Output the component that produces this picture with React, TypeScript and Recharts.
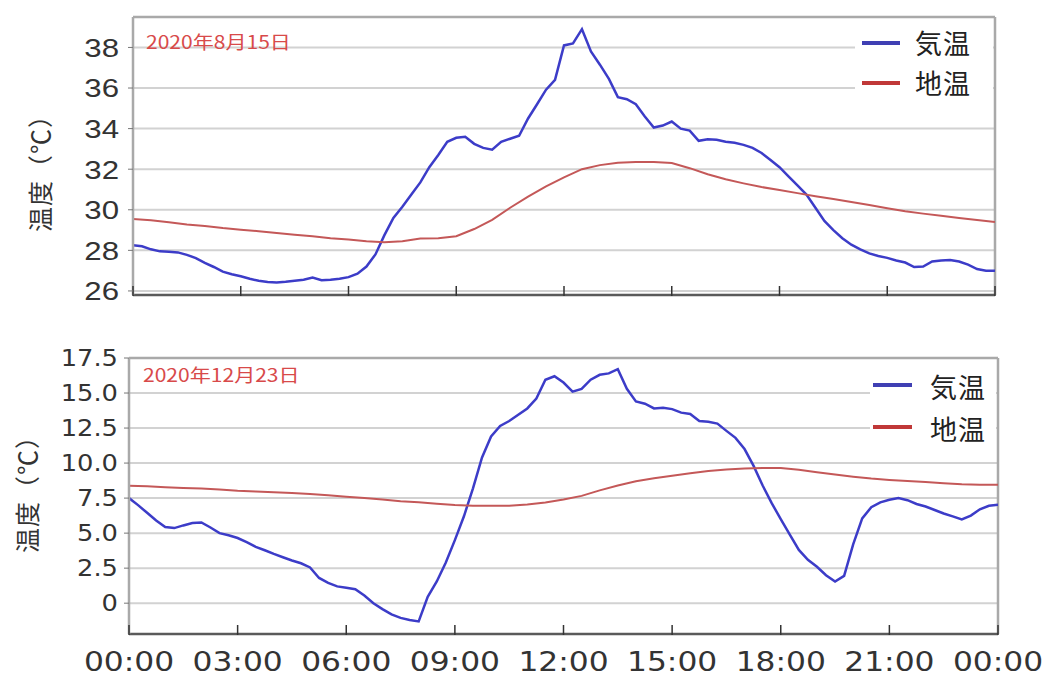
import React from 'react';
import { LineChart, Line, XAxis, YAxis, CartesianGrid, Legend, ReferenceLine } from 'recharts';

// time axis (hours)
const hoursQuarter = [
  0, 0.25, 0.5, 0.75, 1, 1.25, 1.5, 1.75, 2, 2.25, 2.5, 2.75, 3, 3.25, 3.5, 3.75,
  4, 4.25, 4.5, 4.75, 5, 5.25, 5.5, 5.75, 6, 6.25, 6.5, 6.75, 7, 7.25, 7.5, 7.75,
  8, 8.25, 8.5, 8.75, 9, 9.25, 9.5, 9.75, 10, 10.25, 10.5, 10.75, 11, 11.25, 11.5, 11.75,
  12, 12.25, 12.5, 12.75, 13, 13.25, 13.5, 13.75, 14, 14.25, 14.5, 14.75, 15, 15.25, 15.5, 15.75,
  16, 16.25, 16.5, 16.75, 17, 17.25, 17.5, 17.75, 18, 18.25, 18.5, 18.75, 19, 19.25, 19.5, 19.75,
  20, 20.25, 20.5, 20.75, 21, 21.25, 21.5, 21.75, 22, 22.25, 22.5, 22.75, 23, 23.25, 23.5, 23.75, 24,
];
const hoursHalf = [
  0, 0.5, 1, 1.5, 2, 2.5, 3, 3.5, 4, 4.5, 5, 5.5, 6, 6.5, 7, 7.5, 8, 8.5, 9, 9.5, 10, 10.5, 11, 11.5,
  12, 12.5, 13, 13.5, 14, 14.5, 15, 15.5, 16, 16.5, 17, 17.5, 18, 18.5, 19, 19.5, 20, 20.5, 21, 21.5,
  22, 22.5, 23, 23.5, 24,
];

// 2020-08-15
const augAir = [
  28.25, 28.2, 28.05, 27.95, 27.93, 27.9, 27.78, 27.62, 27.38, 27.18, 26.95, 26.82,
  26.72, 26.6, 26.5, 26.44, 26.42, 26.45, 26.5, 26.55, 26.66, 26.53, 26.55, 26.6,
  26.68, 26.85, 27.2, 27.8, 28.75, 29.6, 30.15, 30.75, 31.35, 32.1, 32.7, 33.35,
  33.55, 33.6, 33.25, 33.05, 32.96, 33.35, 33.5, 33.65, 34.5, 35.2, 35.92, 36.4,
  38.1, 38.2, 38.9, 37.8, 37.15, 36.45, 35.55, 35.45, 35.2, 34.6, 34.05, 34.15,
  34.35, 34.0, 33.9, 33.4, 33.48, 33.45, 33.35, 33.3, 33.2, 33.05, 32.8, 32.45,
  32.1, 31.65, 31.2, 30.75, 30.1, 29.45, 29.0, 28.6, 28.28, 28.05, 27.85, 27.72,
  27.63, 27.5, 27.4, 27.18, 27.2, 27.45, 27.5, 27.53, 27.45, 27.3, 27.08, 27.0, 27.0,
];
const augSoil = [
  29.55, 29.48, 29.38, 29.28, 29.2, 29.1, 29.02, 28.94, 28.85, 28.77, 28.7, 28.6,
  28.53, 28.45, 28.4, 28.45, 28.58, 28.6, 28.7, 29.05, 29.5, 30.1, 30.65, 31.15,
  31.6, 32.0, 32.2, 32.32, 32.36, 32.36, 32.3, 32.05, 31.75, 31.5, 31.3, 31.12,
  30.97, 30.82, 30.67, 30.53, 30.38, 30.23, 30.08, 29.93, 29.81, 29.7, 29.6, 29.5, 29.4,
];

// 2020-12-23
const decAir = [
  7.5, 7.0, 6.45, 5.9, 5.43, 5.36, 5.55, 5.72, 5.76, 5.4, 5.0, 4.85,
  4.65, 4.35, 4.02, 3.78, 3.52, 3.28, 3.05, 2.85, 2.55, 1.8, 1.45, 1.2,
  1.1, 1.0, 0.55, 0.0, -0.42, -0.8, -1.05, -1.2, -1.3, 0.45, 1.55, 2.9,
  4.5, 6.2, 8.2, 10.4, 11.9, 12.65, 13.0, 13.45, 13.9, 14.6, 15.95, 16.2,
  15.75, 15.1, 15.3, 15.95, 16.3, 16.4, 16.7, 15.3, 14.4, 14.24, 13.9, 13.95,
  13.85, 13.6, 13.5, 13.0, 12.95, 12.82, 12.3, 11.8, 11.0, 9.8, 8.4, 7.14,
  6.0, 4.9, 3.8, 3.1, 2.6, 2.0, 1.54, 1.95, 4.2, 6.05, 6.85, 7.2,
  7.38, 7.5, 7.35, 7.08, 6.9, 6.65, 6.4, 6.2, 5.98, 6.25, 6.7, 6.95, 7.02,
];
const decSoil = [
  8.38, 8.34, 8.28, 8.22, 8.18, 8.12, 8.03, 7.97, 7.92, 7.86, 7.8, 7.7,
  7.6, 7.5, 7.4, 7.28, 7.2, 7.1, 7.0, 6.96, 6.95, 6.95, 7.05, 7.19,
  7.4, 7.66, 8.05, 8.4, 8.7, 8.92, 9.1, 9.27, 9.44, 9.55, 9.62, 9.64,
  9.64, 9.52, 9.34, 9.18, 9.03, 8.9, 8.8, 8.72, 8.65, 8.56, 8.48, 8.45, 8.45,
];

const xTicks = [0, 3, 6, 9, 12, 15, 18, 21, 24];
const xTickLabels = ['00:00', '03:00', '06:00', '09:00', '12:00', '15:00', '18:00', '21:00', '00:00'];
const augYTicks = [26, 28, 30, 32, 34, 36, 38];
const augYLabels = ['26', '28', '30', '32', '34', '36', '38'];
const decYTicks = [0, 2.5, 5, 7.5, 10, 12.5, 15, 17.5];
const decYLabels = ['0', '2.5', '5.0', '7.5', '10.0', '12.5', '15.0', '17.5'];
const seriesNames = ['気温', '地温'];
const yTitle = '温度（℃）';
const augDate = '2020年8月15日';
const decDate = '2020年12月23日';

const AIR = '#3c3cc8';
const SOIL = '#c45858';
const LEGEND_COLORS: Record<string, string> = { '気温': '#3f3fb3', '地温': '#c03838' };
const CJK = '"Noto Sans CJK JP", "Noto Sans CJK SC", sans-serif';

const toData = (hs: number[], vs: number[]) => hs.map((h, i) => ({ h, v: vs[i] }));
const augAirData = toData(hoursQuarter, augAir);
const augSoilData = toData(hoursHalf, augSoil);
const decAirData = toData(hoursQuarter, decAir);
const decSoilData = toData(hoursHalf, decSoil);

const makeXTick = (showLabel: boolean) => (props: any) => {
  const { x, y, payload } = props;
  const idx = xTicks.indexOf(payload.value);
  return (
    <g>
      <line x1={x} x2={x} y1={y - 9} y2={y + 1} stroke="#333" strokeWidth={1.5} />
      {showLabel && (
        <g transform={`translate(${x},${y + 37}) scale(1.16,1)`}>
          <text x={0} y={0} textAnchor="middle" fontFamily="DejaVu Sans" fontSize={27} fill="#333">
            {xTickLabels[idx]}
          </text>
        </g>
      )}
    </g>
  );
};

const makeYTick =
  (ticks: number[], labels: string[], font: string, size: number, sx: number, gap: number) =>
  (props: any) => {
    const { x, y, payload } = props;
    const idx = ticks.indexOf(payload.value);
    return (
      <g>
        <line x1={x - 5} x2={x} y1={y} y2={y} stroke="#777" strokeWidth={1} />
        <g transform={`translate(${x - gap},${y}) scale(${sx},1)`}>
          <text x={0} y={0} dy="0.36em" textAnchor="end" fontFamily={font} fontSize={size} fill="#333">
            {labels[idx]}
          </text>
        </g>
      </g>
    );
  };

const makeLegend =
  (opts: { padTop: number; rowH: number; lineLeft: number; lineW: number; gap: number; textDy: number }) =>
  (props: any) => {
    const payload = (props.payload || []).slice().sort(
      (a: any, b: any) => seriesNames.indexOf(a.value) - seriesNames.indexOf(b.value)
    );
    return (
      <div style={{ background: '#fff', width: '100%', height: '100%', paddingTop: opts.padTop, boxSizing: 'border-box' }}>
        {payload.map((p: any) => (
          <div key={p.value} style={{ height: opts.rowH, display: 'flex', alignItems: 'center', position: 'relative' }}>
            <span
              style={{
                marginLeft: opts.lineLeft,
                width: opts.lineW,
                height: 4,
                background: LEGEND_COLORS[p.value] || p.color,
                display: 'inline-block',
              }}
            />
            <span
              style={{
                marginLeft: opts.gap,
                fontFamily: CJK,
                fontSize: 27,
                lineHeight: '30px',
                color: '#222',
                letterSpacing: 1,
                position: 'relative',
                top: opts.textDy,
              }}
            >
              {p.value}
            </span>
          </div>
        ))}
      </div>
    );
  };

const frame = '#a9a9a9';

export default function App() {
  return (
    <div style={{ position: 'absolute', left: 0, top: 0, width: 1043, height: 680, background: '#fff', overflow: 'hidden' }}>
      <div style={{ position: 'absolute', left: 0, top: 0 }}>
        <LineChart width={1043} height={310} margin={{ top: 17, right: 48, bottom: 0, left: 0 }}>
          <CartesianGrid vertical={false} stroke="#d2d2d2" strokeWidth={2} />
          <XAxis
            dataKey="h"
            type="number"
            domain={[0, 24]}
            ticks={xTicks}
            interval={0}
            height={15}
            tickSize={0}
            tickMargin={0}
            tickLine={false}
            axisLine={{ stroke: '#5a5a5a', strokeWidth: 2.5 }}
            tick={makeXTick(false)}
            allowDataOverflow
          />
          <YAxis
            type="number"
            domain={[25.8, 39.5]}
            ticks={augYTicks}
            interval={0}
            width={133}
            tickSize={0}
            tickMargin={0}
            tickLine={false}
            axisLine={{ stroke: frame, strokeWidth: 2.5 }}
            tick={makeYTick(augYTicks, augYLabels, '"Liberation Sans", Arial, sans-serif', 26, 1.2, 14)}
            allowDataOverflow
          />
          <ReferenceLine y={39.5} stroke={frame} strokeWidth={2.5} />
          <ReferenceLine x={24} stroke={frame} strokeWidth={2.5} />
          <Line data={augAirData} dataKey="v" name={seriesNames[0]} type="linear" stroke={AIR} strokeWidth={2.5} dot={false} isAnimationActive={false} />
          <Line data={augSoilData} dataKey="v" name={seriesNames[1]} type="linear" stroke={SOIL} strokeWidth={2} dot={false} isAnimationActive={false} />
          <Legend
            layout="horizontal"
            verticalAlign="middle"
            align="center"
            content={makeLegend({ padTop: 3, rowH: 40, lineLeft: 7, lineW: 38, gap: 15, textDy: 0 })}
            wrapperStyle={{ position: 'absolute', left: 855, top: 20, width: 138, height: 82, margin: 0, padding: 0 }}
          />
        </LineChart>
      </div>

      <div style={{ position: 'absolute', left: 0, top: 340 }}>
        <LineChart width={1043} height={340} margin={{ top: 18, right: 45, bottom: 0, left: 0 }}>
          <CartesianGrid vertical={false} stroke="#d2d2d2" strokeWidth={2} />
          <XAxis
            dataKey="h"
            type="number"
            domain={[0, 24]}
            ticks={xTicks}
            interval={0}
            height={46}
            tickSize={0}
            tickMargin={0}
            tickLine={false}
            axisLine={{ stroke: '#5a5a5a', strokeWidth: 2.5 }}
            tick={makeXTick(true)}
            allowDataOverflow
          />
          <YAxis
            type="number"
            domain={[-2.2, 17.5]}
            ticks={decYTicks}
            interval={0}
            width={129}
            tickSize={0}
            tickMargin={0}
            tickLine={false}
            axisLine={{ stroke: frame, strokeWidth: 2.5 }}
            tick={makeYTick(decYTicks, decYLabels, '"DejaVu Sans", Verdana, sans-serif', 23, 1.12, 11)}
            allowDataOverflow
          />
          <ReferenceLine y={17.5} stroke={frame} strokeWidth={2.5} />
          <ReferenceLine x={24} stroke={frame} strokeWidth={2.5} />
          <Line data={decAirData} dataKey="v" name={seriesNames[0]} type="linear" stroke={AIR} strokeWidth={2.5} dot={false} isAnimationActive={false} />
          <Line data={decSoilData} dataKey="v" name={seriesNames[1]} type="linear" stroke={SOIL} strokeWidth={2} dot={false} isAnimationActive={false} />
          <Legend
            layout="horizontal"
            verticalAlign="middle"
            align="center"
            content={makeLegend({ padTop: 2, rowH: 42, lineLeft: 3, lineW: 39, gap: 18, textDy: 2 })}
            wrapperStyle={{ position: 'absolute', left: 870, top: 22, width: 126, height: 86, margin: 0, padding: 0 }}
          />
        </LineChart>
      </div>

      <svg width={1043} height={680} style={{ position: 'absolute', left: 0, top: 0, pointerEvents: 'none' }}>
        <g transform="translate(146,49) scale(1.17,1)">
          <text x={0} y={0} fontFamily={CJK} fontSize={18} fill="#d84a4a">{augDate}</text>
        </g>
        <g transform="translate(143,382) scale(1.17,1)">
          <text x={0} y={0} fontFamily={CJK} fontSize={18} fill="#d84a4a">{decDate}</text>
        </g>
        <text
          transform="translate(41,167) rotate(-90)"
          textAnchor="middle"
          dy="0.35em"
          fontFamily={CJK}
          fontSize={25}
          letterSpacing={1}
          fill="#333"
        >
          {yTitle}
        </text>
        <text
          transform="translate(28,488) rotate(-90)"
          textAnchor="middle"
          dy="0.35em"
          fontFamily={CJK}
          fontSize={25}
          letterSpacing={1}
          fill="#333"
        >
          {yTitle}
        </text>
      </svg>
    </div>
  );
}
